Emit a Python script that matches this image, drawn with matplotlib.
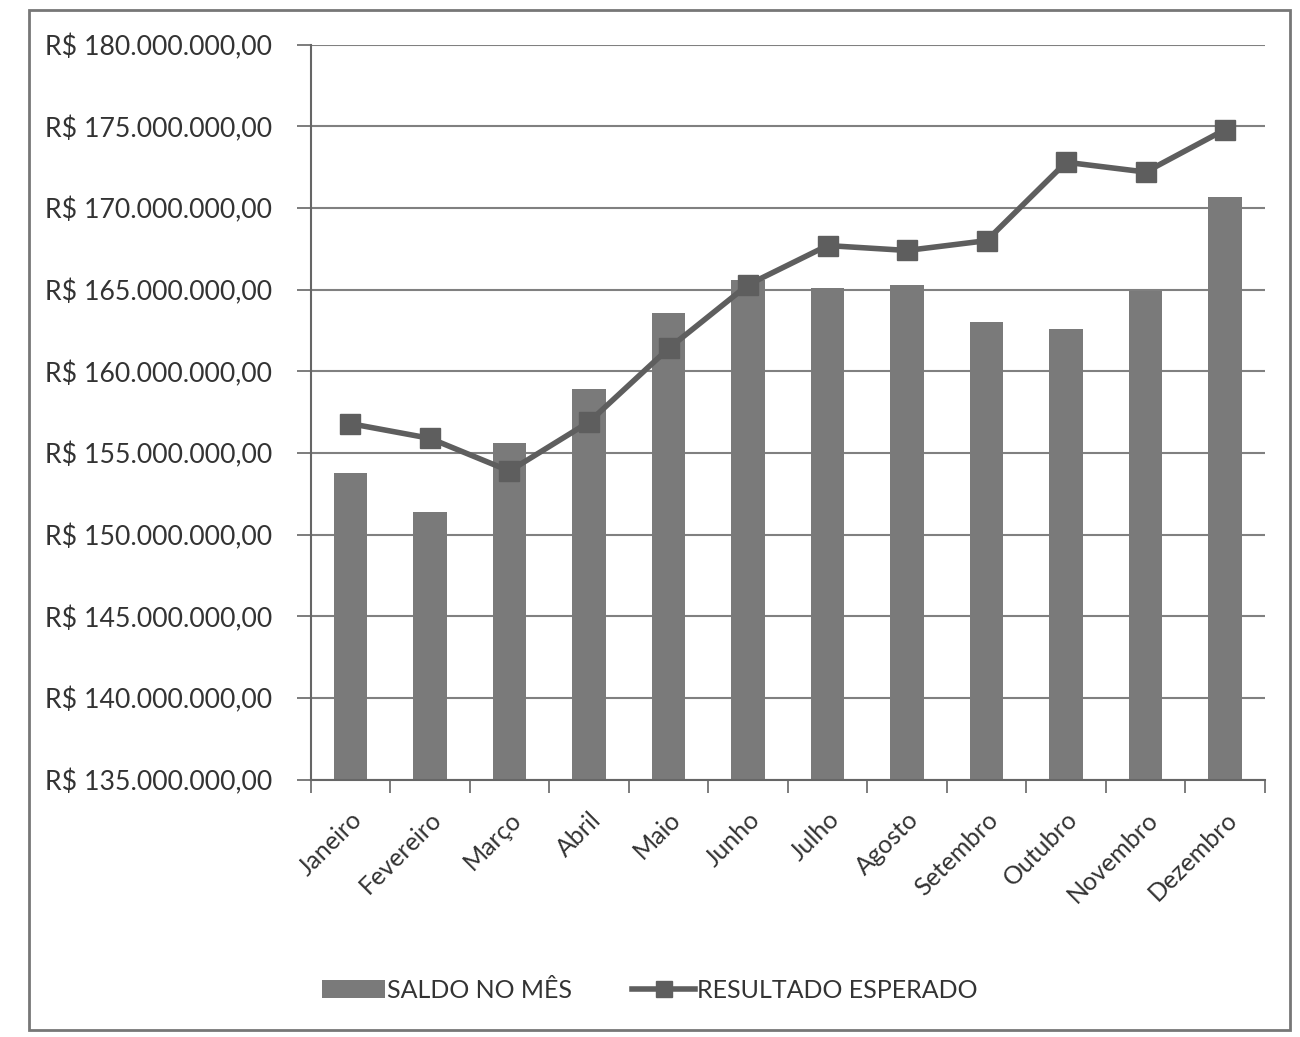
import numpy as np
import matplotlib.pyplot as plt
from matplotlib.patches import Rectangle
from matplotlib.ticker import FuncFormatter, FixedLocator

plt.rcParams['font.family'] = ['Lato', 'DejaVu Sans']

meses = ['Janeiro', 'Fevereiro', 'Março', 'Abril', 'Maio', 'Junho',
         'Julho', 'Agosto', 'Setembro', 'Outubro', 'Novembro', 'Dezembro']
saldo_mes = [153.8, 151.4, 155.6, 158.9, 163.6, 165.6,
             165.1, 165.3, 163.0, 162.6, 164.9, 170.7]          # milhões R$
resultado_esperado = [156.8, 155.9, 153.9, 156.9, 161.4, 165.3,
                      167.7, 167.4, 168.0, 172.8, 172.2, 174.8]  # milhões R$
yticks = [135, 140, 145, 150, 155, 160, 165, 170, 175, 180]

def brl(v, pos=None):
    s = f"{v * 1e6:,.2f}"
    s = s.replace(',', 'X').replace('.', ',').replace('X', '.')
    return f"R$ {s}"

fig = plt.figure(figsize=(13, 10.37), dpi=100)
ax = fig.add_axes([0.239, 0.248, 0.734, 0.709])

x = np.arange(len(meses))
barras = ax.bar(x, np.array(saldo_mes) - yticks[0], bottom=yticks[0], width=0.42,
                color='#7a7a7a', zorder=2)
linha, = ax.plot(x, resultado_esperado, color='#5e5e5e', lw=4, marker='s', ms=15,
                 zorder=3)

ax.set_ylim(yticks[0], yticks[-1])
ax.set_xlim(-0.5, len(meses) - 0.5)
ax.set_yticks(yticks)
ax.yaxis.set_major_formatter(FuncFormatter(brl))
ax.grid(axis='y', color='#808080', lw=1.5, zorder=1)

ax.set_xticks(x)
ax.set_xticklabels(meses, rotation=45, ha='right', rotation_mode='anchor',
                   fontsize=18, color='#333333')
ax.xaxis.set_minor_locator(FixedLocator(np.arange(-0.5, len(meses), 1)))
ax.tick_params(axis='x', which='major', length=0, pad=20)
ax.tick_params(axis='x', which='minor', length=9, width=1.2, color='#666666')
ax.tick_params(axis='y', length=10, width=1.2, color='#666666',
               labelsize=19.2, labelcolor='#333333', pad=18)

for s in ['top', 'right']:
    ax.spines[s].set_visible(False)
for s in ['left', 'bottom']:
    ax.spines[s].set_color('#666666')
    ax.spines[s].set_linewidth(1.5)

fig.legend([barras, linha], ['SALDO NO MÊS', 'RESULTADO ESPERADO'],
           loc='center', bbox_to_anchor=(0.5, 0.045), ncol=2, frameon=False,
           fontsize=18, handlelength=2.5, handletextpad=0.1, columnspacing=2.4,
           labelcolor='#333333', markerscale=0.8)

fig.patches.append(Rectangle((0.022, 0.007), 0.97, 0.983, transform=fig.transFigure,
                             fill=False, edgecolor='#777777', lw=2))

fig.savefig('out.png', dpi=100)
